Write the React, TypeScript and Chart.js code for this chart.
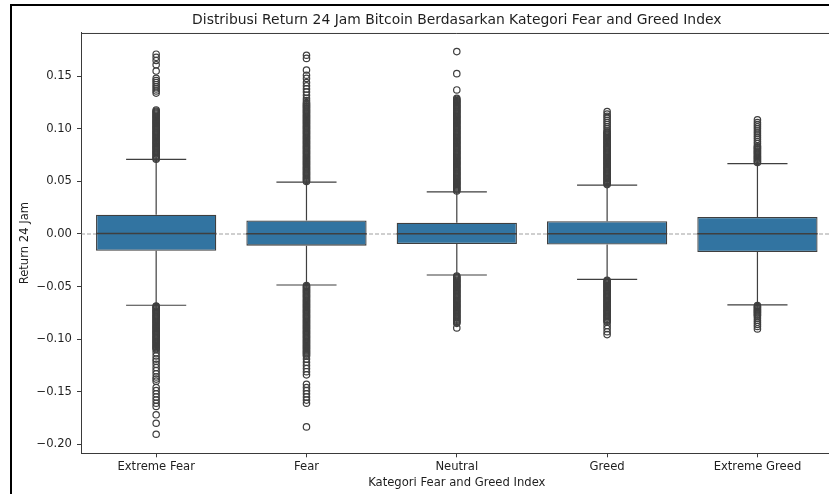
import React, { useEffect, useRef } from 'react';
import { Chart, registerables } from 'chart.js';

Chart.register(...registerables);

// ---------- data ----------
const categories = ['Extreme Fear', 'Fear', 'Neutral', 'Greed', 'Extreme Greed'];
const q1 = [-0.0159, -0.0111, -0.0095, -0.0100, -0.0171];
const median = [0.0005, 0.0003, 0.0002, 0.0003, 0.0003];
const q3 = [0.0183, 0.0129, 0.0107, 0.0122, 0.0161];
const whiskerLow = [-0.0678, -0.0485, -0.0390, -0.0431, -0.0675];
const whiskerHigh = [0.0709, 0.0494, 0.0400, 0.0465, 0.0670];

const outliersExtremeFear = [
  0.171, 0.168, 0.165, 0.161, 0.155, 0.148, 0.146, 0.144, 0.142, 0.140, 0.138, 0.136, 0.134,
  0.118, 0.117, 0.116, 0.115, 0.114, 0.113, 0.112, 0.111, 0.110, 0.109, 0.108, 0.107, 0.106,
  0.105, 0.104, 0.103, 0.102, 0.101, 0.100, 0.099, 0.098, 0.097, 0.096, 0.095, 0.094, 0.093,
  0.092, 0.091, 0.090, 0.089, 0.088, 0.087, 0.086, 0.085, 0.084, 0.083, 0.082, 0.081, 0.080,
  0.079, 0.078, 0.077, 0.076, 0.075, 0.074, 0.073, 0.072, 0.0712,
  -0.0685, -0.069, -0.070, -0.071, -0.072, -0.073, -0.074, -0.075, -0.076, -0.077, -0.078, -0.079,
  -0.080, -0.081, -0.082, -0.083, -0.084, -0.085, -0.086, -0.087, -0.088, -0.089, -0.090, -0.091,
  -0.092, -0.093, -0.094, -0.095, -0.096, -0.097, -0.098, -0.099, -0.100, -0.101, -0.102, -0.103,
  -0.104, -0.105, -0.106, -0.107, -0.108, -0.109, -0.110,
  -0.113, -0.116, -0.119, -0.121, -0.124, -0.127, -0.130, -0.133, -0.136, -0.138, -0.140,
  -0.146, -0.149, -0.152, -0.155, -0.158, -0.161, -0.164, -0.172, -0.180, -0.1905,
];
const outliersFear = [
  0.170, 0.167, 0.156, 0.151, 0.148, 0.144, 0.141, 0.138, 0.135, 0.132, 0.129, 0.127,
  0.125, 0.124, 0.123, 0.122, 0.121, 0.120, 0.119, 0.118, 0.117, 0.116, 0.115, 0.114, 0.113,
  0.112, 0.111, 0.110, 0.109, 0.108, 0.107, 0.106, 0.105, 0.104, 0.103, 0.102, 0.101, 0.100,
  0.099, 0.098, 0.097, 0.096, 0.095, 0.094, 0.093, 0.092, 0.091, 0.090, 0.089, 0.088, 0.087,
  0.086, 0.085, 0.084, 0.083, 0.082, 0.081, 0.080, 0.079, 0.078, 0.077, 0.076, 0.075, 0.074,
  0.073, 0.072, 0.071, 0.070, 0.069, 0.068, 0.067, 0.066, 0.065, 0.064, 0.063, 0.062, 0.061,
  0.060, 0.059, 0.058, 0.057, 0.056, 0.055, 0.054, 0.053, 0.052, 0.051, 0.050,
  -0.049, -0.050, -0.051, -0.052, -0.053, -0.054, -0.055, -0.056, -0.057, -0.058, -0.059, -0.060,
  -0.061, -0.062, -0.063, -0.064, -0.065, -0.066, -0.067, -0.068, -0.069, -0.070, -0.071, -0.072,
  -0.073, -0.074, -0.075, -0.076, -0.077, -0.078, -0.079, -0.080, -0.081, -0.082, -0.083, -0.084,
  -0.085, -0.086, -0.087, -0.088, -0.089, -0.090, -0.091, -0.092, -0.093, -0.094, -0.095, -0.096,
  -0.097, -0.098, -0.099, -0.100, -0.101, -0.102, -0.103, -0.104, -0.105, -0.106, -0.107, -0.108,
  -0.109, -0.110, -0.111, -0.112, -0.113, -0.114, -0.115, -0.116,
  -0.119, -0.122, -0.125, -0.128, -0.131, -0.134, -0.143, -0.146, -0.149, -0.152, -0.155, -0.158,
  -0.161, -0.1835,
];
const outliersNeutral = [
  0.1735, 0.1525, 0.137,
  0.129, 0.128, 0.127, 0.126, 0.125, 0.124, 0.123, 0.122, 0.121, 0.120, 0.119, 0.118, 0.117,
  0.116, 0.115, 0.114, 0.113, 0.112, 0.111, 0.110, 0.109, 0.108, 0.107, 0.106, 0.105, 0.104,
  0.103, 0.102, 0.101, 0.100, 0.099, 0.098, 0.097, 0.096, 0.095, 0.094, 0.093, 0.092, 0.091,
  0.090, 0.089, 0.088, 0.087, 0.086, 0.085, 0.084, 0.083, 0.082, 0.081, 0.080, 0.079, 0.078,
  0.077, 0.076, 0.075, 0.074, 0.073, 0.072, 0.071, 0.070, 0.069, 0.068, 0.067, 0.066, 0.065,
  0.064, 0.063, 0.062, 0.061, 0.060, 0.059, 0.058, 0.057, 0.056, 0.055, 0.054, 0.053, 0.052,
  0.051, 0.050, 0.049, 0.048, 0.047, 0.046, 0.045, 0.044, 0.043, 0.042, 0.041,
  -0.040, -0.041, -0.042, -0.043, -0.044, -0.045, -0.046, -0.047, -0.048, -0.049, -0.050, -0.051,
  -0.052, -0.053, -0.054, -0.055, -0.056, -0.057, -0.058, -0.059, -0.060, -0.061, -0.062, -0.063,
  -0.064, -0.065, -0.066, -0.067, -0.068, -0.069, -0.070, -0.071, -0.072, -0.073, -0.074, -0.075,
  -0.076, -0.077, -0.078, -0.079, -0.080, -0.081, -0.082, -0.083, -0.084, -0.085, -0.0893,
];
const outliersGreed = [
  0.1165, 0.114, 0.112, 0.110, 0.108, 0.106, 0.104, 0.102, 0.100,
  0.098, 0.097, 0.096, 0.095, 0.094, 0.093, 0.092, 0.091, 0.090, 0.089, 0.088, 0.087, 0.086,
  0.085, 0.084, 0.083, 0.082, 0.081, 0.080, 0.079, 0.078, 0.077, 0.076, 0.075, 0.074, 0.073,
  0.072, 0.071, 0.070, 0.069, 0.068, 0.067, 0.066, 0.065, 0.064, 0.063, 0.062, 0.061, 0.060,
  0.059, 0.058, 0.057, 0.056, 0.055, 0.054, 0.053, 0.052, 0.051, 0.050, 0.049, 0.048, 0.047,
  -0.044, -0.045, -0.046, -0.047, -0.048, -0.049, -0.050, -0.051, -0.052, -0.053, -0.054, -0.055,
  -0.056, -0.057, -0.058, -0.059, -0.060, -0.061, -0.062, -0.063, -0.064, -0.065, -0.066, -0.067,
  -0.068, -0.069, -0.070, -0.071, -0.072, -0.073, -0.074, -0.075, -0.076, -0.077, -0.078, -0.079,
  -0.080, -0.081, -0.082, -0.083, -0.084, -0.087, -0.090, -0.093, -0.0957,
];
const outliersExtremeGreed = [
  0.1085, 0.106, 0.104, 0.102, 0.100, 0.098, 0.096, 0.094, 0.092, 0.090, 0.088, 0.086, 0.084,
  0.083, 0.082, 0.081, 0.080, 0.079, 0.078, 0.077, 0.076, 0.075, 0.074, 0.073, 0.072, 0.071,
  0.070, 0.069, 0.068,
  -0.068, -0.069, -0.070, -0.071, -0.072, -0.073, -0.074, -0.075, -0.076, -0.077, -0.078, -0.080,
  -0.082, -0.084, -0.086, -0.088, -0.0903,
];
const outliers = [
  outliersExtremeFear,
  outliersFear,
  outliersNeutral,
  outliersGreed,
  outliersExtremeGreed,
];

const yTicks = [-0.2, -0.15, -0.1, -0.05, 0, 0.05, 0.1, 0.15];
const yMin = -0.2086;
const yMax = 0.1912;

const chartTitle = 'Distribusi Return 24 Jam Bitcoin Berdasarkan Kategori Fear and Greed Index';
const xTitle = 'Kategori Fear and Greed Index';
const yTitle = 'Return 24 Jam';

// ---------- style ----------
const FONT = 'DejaVu Sans';
const TEXT = '#1e1e1e';
const AXIS = '#3a3a3a';
const LINE = '#3f3f3f';
const BOX = '#3274a1';
const CANVAS_W = 840;
const CANVAS_H = 494;
const TICK_SIZE = 11.6;
const TITLE_SIZE = 13.9;

const boxPlugin = {
  id: 'boxParts',
  beforeDatasetsDraw(chart: any) {
    const { ctx, chartArea, scales } = chart;
    const y0 = scales.y.getPixelForValue(0);
    ctx.save();
    // top spine
    ctx.strokeStyle = AXIS;
    ctx.lineWidth = 1;
    ctx.beginPath();
    ctx.moveTo(chartArea.left, chartArea.top + 0.5);
    ctx.lineTo(chartArea.right, chartArea.top + 0.5);
    ctx.stroke();
    // reference line at zero
    ctx.strokeStyle = 'rgba(128,128,128,0.75)';
    ctx.lineWidth = 1.1;
    ctx.setLineDash([4, 2]);
    ctx.beginPath();
    ctx.moveTo(chartArea.left, y0);
    ctx.lineTo(chartArea.right, y0);
    ctx.stroke();
    ctx.restore();
  },
  afterDatasetDraw(chart: any, args: any) {
    if (args.meta.type !== 'bar') return;
    const { ctx, scales } = chart;
    const xs = scales.x;
    const ys = scales.y;
    ctx.save();
    ctx.strokeStyle = LINE;
    ctx.lineWidth = 1.2;
    args.meta.data.forEach((bar: any, i: number) => {
      const cx = xs.getPixelForValue(i);
      const half = bar.width / 2;
      const cap = half / 2;
      const yQ1 = ys.getPixelForValue(q1[i]);
      const yQ3 = ys.getPixelForValue(q3[i]);
      const yLo = ys.getPixelForValue(whiskerLow[i]);
      const yHi = ys.getPixelForValue(whiskerHigh[i]);
      const yMed = ys.getPixelForValue(median[i]);
      ctx.beginPath();
      ctx.moveTo(cx, yQ3);
      ctx.lineTo(cx, yHi);
      ctx.moveTo(cx, yQ1);
      ctx.lineTo(cx, yLo);
      ctx.moveTo(cx - cap, yHi);
      ctx.lineTo(cx + cap, yHi);
      ctx.moveTo(cx - cap, yLo);
      ctx.lineTo(cx + cap, yLo);
      ctx.stroke();
      ctx.beginPath();
      ctx.lineWidth = 1.4;
      ctx.moveTo(cx - half, yMed);
      ctx.lineTo(cx + half, yMed);
      ctx.stroke();
      ctx.lineWidth = 1.2;
    });
    ctx.restore();
  },
};

const fmt = (v: number) => {
  const s = Math.abs(v).toFixed(2);
  return v < -1e-9 ? '\u2212' + s : s;
};

export default function App() {
  const ref = useRef<HTMLCanvasElement | null>(null);

  useEffect(() => {
    if (!ref.current) return;
    const scatterData: { x: string; y: number }[] = [];
    outliers.forEach((arr, i) => arr.forEach((v) => scatterData.push({ x: categories[i], y: v })));

    const chart = new Chart(ref.current, {
      type: 'bar',
      data: {
        labels: categories,
        datasets: [
          {
            type: 'bar',
            data: categories.map((_, i) => [q1[i], q3[i]]) as any,
            backgroundColor: BOX,
            borderColor: LINE,
            borderWidth: 1.3,
            borderSkipped: false,
            categoryPercentage: 0.8,
            barPercentage: 1,
            order: 2,
          },
          {
            type: 'scatter',
            data: scatterData as any,
            pointStyle: 'circle',
            pointRadius: 3.2,
            pointBorderWidth: 1.2,
            pointBorderColor: LINE,
            pointBackgroundColor: 'rgba(0,0,0,0)',
            order: 1,
          } as any,
        ],
      },
      options: {
        animation: false,
        responsive: false,
        maintainAspectRatio: false,
        events: [],
        layout: { padding: { left: 0, right: CANVAS_W - 832.6, top: 0, bottom: 0 } },
        plugins: {
          legend: { display: false },
          tooltip: { enabled: false },
          title: {
            display: true,
            text: chartTitle,
            fullSize: false,
            color: TEXT,
            font: { family: FONT, size: TITLE_SIZE, weight: 'normal' },
            padding: { top: 12.2, bottom: 4.1 },
          },
        },
        scales: {
          x: {
            type: 'category',
            offset: true,
            grid: {
              display: true,
              drawOnChartArea: false,
              drawTicks: true,
              tickLength: 4,
              tickColor: AXIS,
              offset: false,
            },
            border: { display: true, color: AXIS, width: 1 },
            ticks: {
              color: TEXT,
              font: { family: FONT, size: TICK_SIZE },
              padding: 3,
              maxRotation: 0,
              autoSkip: false,
            },
            title: {
              display: true,
              text: xTitle,
              color: TEXT,
              font: { family: FONT, size: TICK_SIZE },
              padding: { top: 0, bottom: 4.0 },
            },
            afterFit: (s: any) => {
              s.height = CANVAS_H - 453.3;
            },
          },
          y: {
            type: 'linear',
            min: yMin,
            max: yMax,
            afterBuildTicks: (s: any) => {
              s.ticks = yTicks.map((v) => ({ value: v }));
            },
            grid: {
              display: true,
              drawOnChartArea: false,
              drawTicks: true,
              tickLength: 4,
              tickColor: AXIS,
            },
            border: { display: true, color: AXIS, width: 1 },
            ticks: {
              color: TEXT,
              font: { family: FONT, size: TICK_SIZE },
              padding: 5,
              callback: (v: any) => fmt(Number(v)),
            },
            title: {
              display: true,
              text: yTitle,
              color: TEXT,
              font: { family: FONT, size: TICK_SIZE },
              padding: { top: 18.5, bottom: 0 },
            },
            afterFit: (s: any) => {
              s.width = 81;
            },
          },
        },
      } as any,
      plugins: [boxPlugin],
    });
    return () => chart.destroy();
  }, []);

  return (
    <div
      style={{
        position: 'fixed',
        left: 0,
        top: 0,
        width: 829,
        height: 494,
        overflow: 'hidden',
        background: '#ffffff',
      }}
    >
      <canvas
        ref={ref}
        width={CANVAS_W}
        height={CANVAS_H}
        style={{ position: 'absolute', left: 0, top: 0, width: CANVAS_W, height: CANVAS_H }}
      />
      <div
        style={{
          position: 'absolute',
          left: 10,
          top: 4,
          width: 840,
          height: 520,
          borderLeft: '2px solid #000',
          borderTop: '2px solid #000',
          pointerEvents: 'none',
        }}
      />
    </div>
  );
}
